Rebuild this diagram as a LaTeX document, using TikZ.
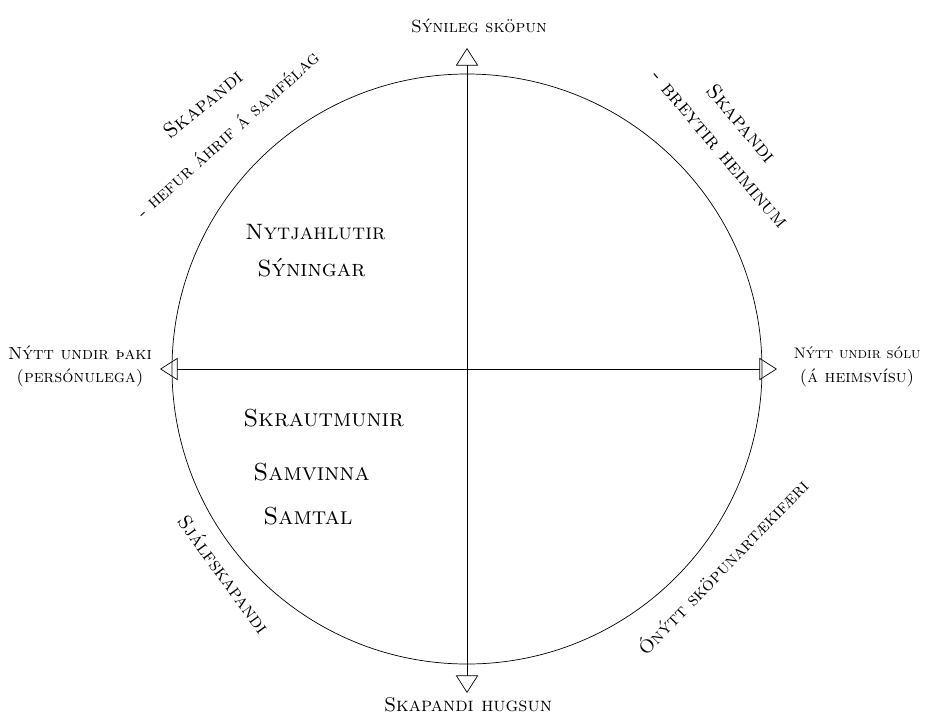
\documentclass[tikz,border=0pt]{standalone}
\usepackage{tikz}
\usetikzlibrary{positioning, arrows.meta}

\tikzset{
  axis/.style={line width=0.6pt, {Triangle[open, length=15pt, width=19pt]}-{Triangle[open, length=15pt, width=19pt]}},
  hand/.style={font=\fontsize{15}{18}\selectfont\scshape, inner sep=1pt},
  inner/.style={font=\fontsize{20}{24}\selectfont\scshape, inner sep=1pt, anchor=west}
}

\begin{document}
\begin{tikzpicture}[x=0.03cm, y=-0.03cm]
      \useasboundingbox (0,0) rectangle (926,720);

      % Circle and axes
      \coordinate (c) at (467,369);
      \draw[line width=0.6pt] (c) circle (295);
      \coordinate (top) at (467,48);
      \coordinate (bottom) at (467,693);
      \coordinate (left) at (160,369);
      \coordinate (right) at (777,369);
      \draw[axis] (bottom) -- (top);
      \draw[axis] (left) -- (right);

      % Axis labels
      \node[hand] (visible) at (479,26) {Sýnileg sköpun};
      \node[hand, font=\fontsize{17}{20}\selectfont\scshape] (thought) at (468,705) {Skapandi hugsun};
      \node[hand] (roof) at (80,353) {Nýtt undir þaki};
      \node[hand, below=5pt of roof] (personal) {(persónulega)};
      \node[hand, font=\fontsize{13}{16}\selectfont\scshape] (sun) at (857,353) {Nýtt undir sólu};
      \node[hand, below=6pt of sun] (global) {(á heimsvísu)};

      % Quadrant labels
      \node[hand, rotate=39, font=\fontsize{18}{21}\selectfont\scshape] (creatorA) at (203,104) {Skapandi};
      \node[hand, rotate=42, font=\fontsize{16}{19}\selectfont\scshape] (society) at (227,134) {- hefur áhrif á samfélag};
      \node[hand, rotate=-50, font=\fontsize{18}{21}\selectfont\scshape] (creatorB) at (742,123) {Skapandi};
      \node[hand, rotate=-50, font=\fontsize{18}{21}\selectfont\scshape] (world) at (719,150) {- breytir heiminum};
      \node[hand, rotate=-54, font=\fontsize{17}{20}\selectfont\scshape] (self) at (224,574) {Sjálfskapandi};
      \node[hand, rotate=46, font=\fontsize{16}{19}\selectfont\scshape] (unused) at (722,566) {Ónýtt sköpunartækifæri};

      % Inside the circle
      \node[inner, font=\fontsize{19}{23}\selectfont\scshape] (useful) at (244,232) {Nytjahlutir};
      \node[inner] (shows) at (256,268) {Sýningar};
      \node[inner, font=\fontsize{21}{25}\selectfont\scshape] (ornament) at (242,418) {Skrautmunir};
      \node[inner, font=\fontsize{21}{25}\selectfont\scshape] (teamwork) at (252,472) {Samvinna};
      \node[inner, font=\fontsize{21}{25}\selectfont\scshape] (talk) at (262,516) {Samtal};
\end{tikzpicture}
\end{document}
